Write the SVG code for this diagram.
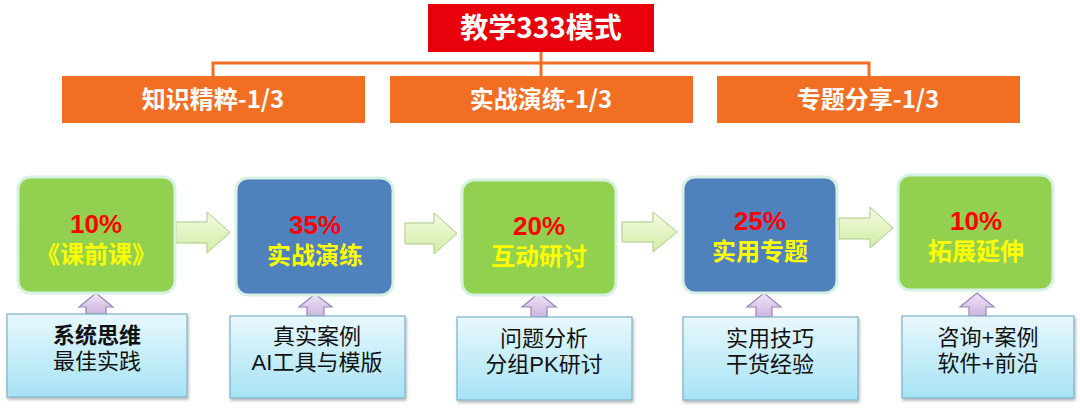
<svg xmlns="http://www.w3.org/2000/svg" width="1080" height="409" viewBox="0 0 1080 409">
<defs>
<linearGradient id="gArrow" x1="0" y1="0" x2="0" y2="1">
<stop offset="0" stop-color="#F4FBE0"/><stop offset="1" stop-color="#D2EDA6"/>
</linearGradient>
<linearGradient id="gLow" x1="0" y1="0" x2="0" y2="1">
<stop offset="0" stop-color="#E8F8FD"/><stop offset="1" stop-color="#A6E3F5"/>
</linearGradient>
<linearGradient id="gUp" x1="0" y1="0" x2="0" y2="1">
<stop offset="0" stop-color="#EEE3F6"/><stop offset="1" stop-color="#CDB6E0"/>
</linearGradient>
<filter id="sh" x="-10%" y="-10%" width="120%" height="130%">
<feDropShadow dx="1" dy="2" stdDeviation="1.5" flood-color="#000" flood-opacity="0.3"/>
</filter>
</defs>
<style>
.t{font-family:"Noto Sans CJK SC","Liberation Sans",sans-serif;text-anchor:middle}
.m{font-family:"Liberation Sans","Noto Sans CJK SC",sans-serif;text-anchor:middle}
.head{fill:#fff;font-weight:bold}
.pct{fill:#FF0000;font-weight:bold;font-size:26px}
.nm{fill:#FFFF00;font-weight:bold;font-size:24px}
.low{fill:#111;font-size:22px}
.green{fill:#92D050;stroke:#D6F0E4;stroke-width:3}
.blue{fill:#4F81BD;stroke:#D6F0E4;stroke-width:3}
.lowbox{fill:url(#gLow);stroke:#7DB3C9;stroke-width:1.2}
.arr{fill:url(#gArrow);stroke:#A9C985;stroke-width:1}
.up{fill:url(#gUp);stroke:#9B84B8;stroke-width:1.2}
.ln{fill:none;stroke:#F26E22;stroke-width:3}
</style>
<rect width="1080" height="409" fill="#FFFFFF"/>

<g id="connectors">
<path class="ln" d="M541 52V63M213 76V63H869V76M541 63V76"/>
<path class="arr" d="M176 222H207V212L230 232.5L207 253V243H176Z"/>
<path class="arr" d="M405 223H434V213L457 233.5L434 254V244H405Z"/>
<path class="arr" d="M622 222H653V212L677 232L653 252V242H622Z"/>
<path class="arr" d="M839 218H870V207L893 228L870 248V239H839Z"/>
<path class="up" d="M86 314V307H79L96 293L113 307H106V314Z"/>
<path class="up" d="M307 316V307H299L315 294L332 307H324V316Z"/>
<path class="up" d="M531 317V307H522L539 293L556 307H547V317Z"/>
<path class="up" d="M756 317V307H747L764 293L781 307H772V317Z"/>
<path class="up" d="M969 316V307H960L977 293L994 307H986V316Z"/>
</g>

<g id="title">
<rect x="428" y="4" width="226" height="48" fill="#E8000B"/>
<text class="t head" x="541" y="38" font-size="28">教学333模式</text>
</g>
<g id="cat1">
<rect x="62" y="76" width="303" height="47" fill="#F26E22"/>
<text class="t head" x="213" y="108" font-size="24">知识精粹-1/3</text>
</g>
<g id="cat2">
<rect x="390" y="76" width="303" height="47" fill="#F26E22"/>
<text class="t head" x="541" y="108" font-size="24">实战演练-1/3</text>
</g>
<g id="cat3">
<rect x="717" y="76" width="303" height="47" fill="#F26E22"/>
<text class="t head" x="868" y="108" font-size="24">专题分享-1/3</text>
</g>

<g id="step1">
<rect class="green" x="18" y="177" width="157" height="116" rx="12"/>
<text class="m pct" x="96" y="233">10%</text>
<text class="m nm" x="96" y="263">《课前课》</text>
</g>
<g id="step2">
<rect class="blue" x="236" y="178" width="157" height="117" rx="12"/>
<text class="m pct" x="315" y="234">35%</text>
<text class="m nm" x="315" y="264">实战演练</text>
</g>
<g id="step3">
<rect class="green" x="462" y="180" width="154" height="115" rx="12"/>
<text class="m pct" x="539" y="235">20%</text>
<text class="m nm" x="539" y="265">互动研讨</text>
</g>
<g id="step4">
<rect class="blue" x="683" y="177" width="154" height="116" rx="12"/>
<text class="m pct" x="760" y="230">25%</text>
<text class="m nm" x="760" y="260">实用专题</text>
</g>
<g id="step5">
<rect class="green" x="898" y="175" width="155" height="115" rx="12"/>
<text class="m pct" x="976" y="230">10%</text>
<text class="m nm" x="976" y="260">拓展延伸</text>
</g>

<g id="note1">
<rect class="lowbox" x="7" y="314" width="180" height="83" filter="url(#sh)"/>
<text class="m low" x="97" y="343" font-weight="bold">系统思维</text>
<text class="m low" x="97" y="369">最佳实践</text>
</g>
<g id="note2">
<rect class="lowbox" x="230" y="316" width="175" height="82" filter="url(#sh)"/>
<text class="m low" x="317" y="344">真实案例</text>
<text class="m low" x="317" y="370">AI工具与模版</text>
</g>
<g id="note3">
<rect class="lowbox" x="457" y="317" width="175" height="83" filter="url(#sh)"/>
<text class="m low" x="544" y="346">问题分析</text>
<text class="m low" x="544" y="372">分组PK研讨</text>
</g>
<g id="note4">
<rect class="lowbox" x="683" y="317" width="175" height="83" filter="url(#sh)"/>
<text class="m low" x="770" y="346">实用技巧</text>
<text class="m low" x="770" y="372">干货经验</text>
</g>
<g id="note5">
<rect class="lowbox" x="902" y="316" width="172" height="82" filter="url(#sh)"/>
<text class="m low" x="988" y="345">咨询+案例</text>
<text class="m low" x="988" y="371">软件+前沿</text>
</g>
</svg>
